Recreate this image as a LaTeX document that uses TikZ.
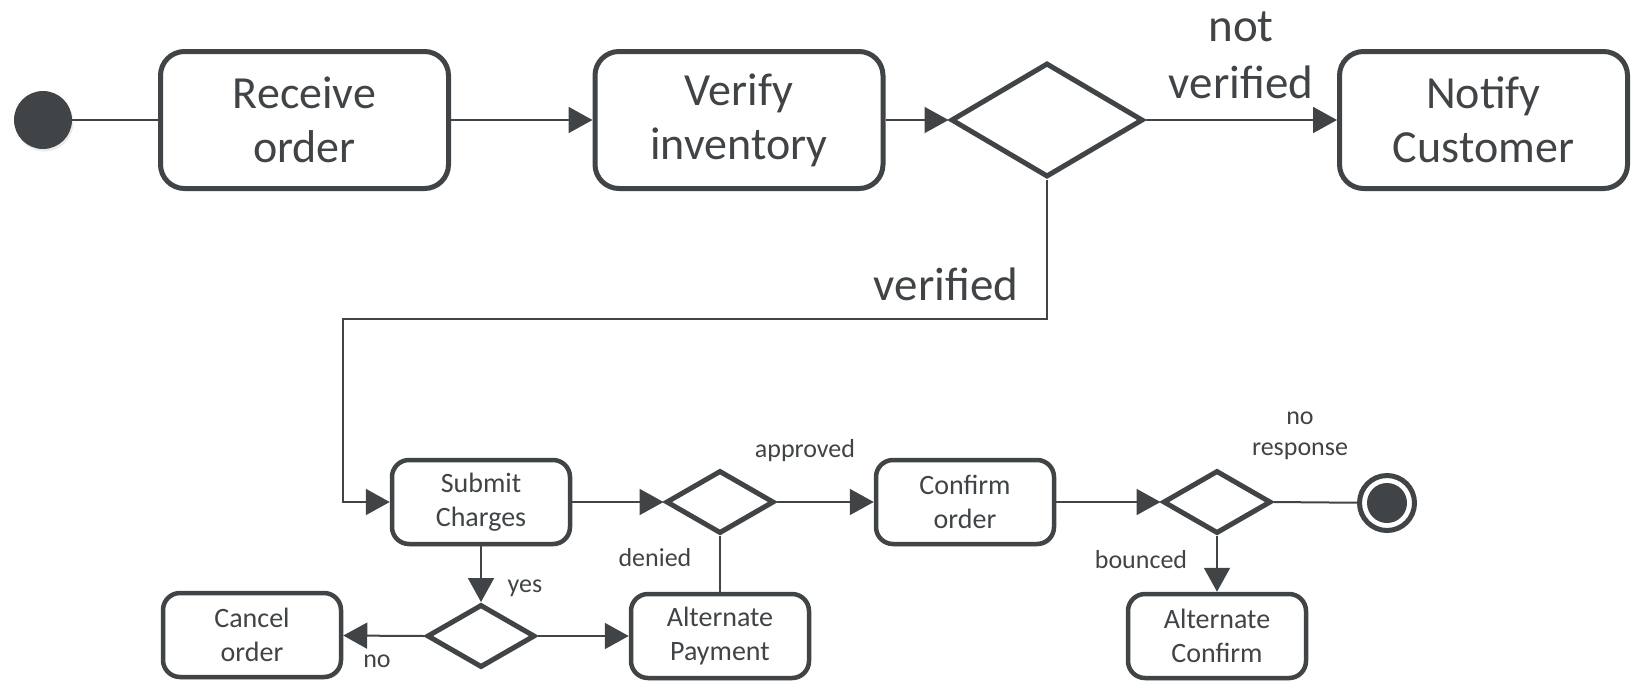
\documentclass[tikz,border=0pt]{standalone}
\usepackage{fontspec}
\setmainfont{Carlito}
\usetikzlibrary{shapes.geometric,arrows.meta,shadows}
\definecolor{ink}{HTML}{404446}
\begin{document}
\begin{tikzpicture}[x=1pt,y=-1pt,
  shd/.style={drop shadow={opacity=0.16, shadow xshift=1.5pt, shadow yshift=-2.5pt}},
  bigbox/.style={rectangle, draw=ink, line width=5pt, rounded corners=24pt, fill=white, shd,
    minimum width=288pt, minimum height=137pt, align=center, inner sep=0pt,
    font=\fontsize{46}{54}\selectfont, text=ink},
  smallbox/.style={rectangle, draw=ink, line width=4.5pt, rounded corners=17pt, fill=white, shd,
    minimum width=178pt, minimum height=84pt, align=center, inner sep=0pt,
    font=\fontsize{28}{34}\selectfont, text=ink},
  bigdec/.style={diamond, draw=ink, line width=5pt, fill=white, shd, inner sep=0pt,
    minimum width=192pt, minimum height=114pt},
  smalldec/.style={diamond, draw=ink, line width=5pt, fill=white, shd, inner sep=0pt,
    minimum width=108pt, minimum height=63pt},
  flow/.style={draw=ink, line width=2pt},
  arr/.style={flow, -{Triangle[length=24pt,width=26pt]}},
  lab/.style={text=ink, font=\fontsize{26}{31}\selectfont, inner sep=0pt},
  biglab/.style={text=ink, font=\fontsize{47}{57}\selectfont, inner sep=0pt}]
\useasboundingbox (0,0) rectangle (1632,683);

% top row
\node[circle, fill=ink, minimum size=58pt, inner sep=0pt, shd] (start) at (43,120) {};
\node[bigbox] (recv) at (304.5,120) {Receive\\order};
\node[bigbox] (verify) at (739,120) {Verify\\inventory};
\node[bigdec] (d1) at (1047,120) {};
\node[bigbox] (notify) at (1483.5,120) {Notify\\Customer};

% middle row
\node[smallbox] (submit) at (481,502) {Submit\\Charges};
\node[smalldec] (d2) at (720,502) {};
\node[smallbox] (confirm) at (965,502) {Confirm\\order};
\node[smalldec] (d3) at (1217,502) {};
\node[circle, draw=ink, line width=5pt, fill=white, minimum size=55pt, inner sep=0pt, shd] (final) at (1387,503) {};
\fill[ink] (final.center) circle (20pt);

% bottom row
\node[smallbox] (cancel) at (252,635) {Cancel\\order};
\node[smalldec] (d4) at (481,636) {};
\node[smallbox] (altpay) at (720,636) {Alternate\\Payment};
\node[smallbox] (altconf) at (1217,636) {Alternate\\Confirm};

\coordinate (vc) at (343,319);

% connectors
\draw[flow] (start) -- (recv);
\draw[arr] (recv) -- (verify);
\draw[arr] (verify) -- (d1.west);
\draw[arr] (d1.east) -- (notify);
\draw[arr] (d1.south) |- (vc) |- (submit.west);
\draw[arr] (submit) -- (d2.west);
\draw[arr] (d2.east) -- (confirm);
\draw[arr] (confirm) -- (d3.west);
\draw[flow] (d3.east) -- (final);
\draw[arr] (d3.south) -- (altconf);
\draw[arr] (submit) -- (d4.north);
\draw[arr] (d4.west) -- (cancel);
\draw[arr] (d4.east) -- (altpay);
\draw[flow] (altpay) -- (d2.south);

% labels
\node[biglab, align=center] (lnv) at (1241,55) {not\\verified};
\node[biglab, anchor=base] (lv) at (946,300) {verified};
\node[lab, anchor=base] (lap) at (805,457) {approved};
\node[lab, anchor=base] (lden) at (655,566) {denied};
\node[lab, anchor=base] (lyes) at (525,592) {yes};
\node[lab, anchor=base] (lno) at (377,667) {no};
\node[lab, anchor=base] (lbo) at (1141,568) {bounced};
\node[lab, align=center] (lnr) at (1300,436) {no\\response};
\end{tikzpicture}
\end{document}
